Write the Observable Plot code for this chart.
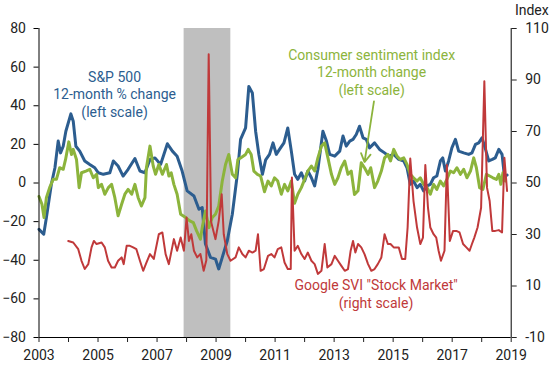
<!DOCTYPE html>
<html>
<head>
<meta charset="utf-8">
<script src="https://cdn.jsdelivr.net/npm/d3@7"></script>
<script src="https://cdn.jsdelivr.net/npm/@observablehq/plot@0.6"></script>
<style>
  html, body { margin: 0; padding: 0; background: #fff; }
  #chart { width: 550px; height: 365px; }
</style>
</head>
<body>
<div id="chart"></div>
<script>
// ---- Data (decimal years) ----
const spYears = [2003.00,2003.16,2003.25,2003.42,2003.54,2003.65,2003.73,2003.82,2003.91,2004.08,2004.16,2004.25,2004.38,2004.55,2004.72,2004.89,2005.01,2005.18,2005.40,2005.52,2005.68,2005.85,2006.02,2006.25,2006.42,2006.59,2006.76,2006.93,2007.12,2007.35,2007.52,2007.68,2007.85,2008.02,2008.25,2008.42,2008.53,2008.64,2008.81,2008.98,2009.09,2009.21,2009.38,2009.55,2009.72,2009.83,2010.00,2010.11,2010.23,2010.34,2010.45,2010.57,2010.68,2010.81,2010.93,2011.04,2011.15,2011.30,2011.43,2011.55,2011.66,2011.77,2011.89,2012.00,2012.11,2012.23,2012.34,2012.45,2012.62,2012.74,2012.85,2013.02,2013.19,2013.30,2013.41,2013.53,2013.64,2013.75,2013.86,2013.98,2014.09,2014.20,2014.37,2014.54,2014.71,2014.85,2015.02,2015.19,2015.36,2015.47,2015.58,2015.69,2015.81,2015.92,2016.03,2016.15,2016.26,2016.37,2016.48,2016.60,2016.68,2016.77,2016.88,2016.99,2017.11,2017.22,2017.39,2017.56,2017.67,2017.79,2017.90,2018.01,2018.13,2018.24,2018.36,2018.46,2018.58,2018.69,2018.77,2018.86];
const spValues = [-24,-26.5,-18,-0.5,7.9,21.7,15.6,19,26.8,35.8,32,19,16.5,11.4,9.6,7.9,5.3,4.5,5.3,11.4,8.8,3.6,7.1,12.7,6.2,5.3,12.2,13,9.6,20.3,16.5,13.9,6.2,-4.1,-6.7,-13.6,-12.7,-31.6,-38.5,-39.4,-44.5,-38.5,-29.9,-16.2,4.5,22.6,28.5,50,46.6,26.8,14.8,4.5,12,14.8,20.8,14.8,17.4,20.8,28.5,16.5,4.5,1.9,5.3,1,6.2,2.7,-1.5,7.1,26.8,21.7,14.8,13.9,16.5,24.3,19.1,21.7,22.6,25.1,29.4,23.4,22.6,18.2,20.8,17.4,15.6,13.9,14.8,12.2,11.4,7.9,-0.7,1,-2.4,-0.7,-4.1,-1.5,-0.7,2.7,3.6,11.4,13,6.2,11.4,18.2,22.6,16.5,15.6,14.8,15.6,20,20.8,23.4,17.4,11.4,12.2,13,17.4,14.8,3.6,4.1];

const csYears = [2003.00,2003.10,2003.17,2003.25,2003.36,2003.48,2003.59,2003.70,2003.82,2003.90,2004.01,2004.10,2004.16,2004.27,2004.36,2004.44,2004.59,2004.72,2004.84,2004.95,2005.01,2005.12,2005.23,2005.35,2005.46,2005.57,2005.68,2005.80,2005.91,2006.02,2006.14,2006.25,2006.36,2006.47,2006.59,2006.64,2006.76,2006.87,2006.95,2007.06,2007.18,2007.32,2007.40,2007.48,2007.57,2007.68,2007.80,2007.97,2008.11,2008.23,2008.34,2008.47,2008.53,2008.64,2008.76,2008.87,2008.98,2009.09,2009.21,2009.32,2009.43,2009.55,2009.66,2009.74,2009.83,2010.00,2010.09,2010.19,2010.28,2010.40,2010.51,2010.64,2010.76,2010.87,2010.98,2011.09,2011.21,2011.32,2011.43,2011.55,2011.66,2011.77,2011.89,2012.00,2012.11,2012.23,2012.34,2012.45,2012.57,2012.68,2012.79,2012.91,2013.02,2013.13,2013.24,2013.36,2013.47,2013.58,2013.69,2013.81,2013.92,2014.03,2014.15,2014.24,2014.37,2014.48,2014.60,2014.71,2014.82,2014.91,2015.02,2015.13,2015.24,2015.36,2015.47,2015.58,2015.69,2015.81,2015.92,2016.03,2016.15,2016.26,2016.37,2016.48,2016.60,2016.71,2016.82,2016.94,2017.05,2017.16,2017.28,2017.39,2017.50,2017.62,2017.73,2017.82,2017.93,2018.04,2018.16,2018.27,2018.38,2018.50,2018.58,2018.65,2018.72,2018.80];
const csValues = [-7,-11,-17.9,-7.6,-2.4,1.9,1.9,7.9,7.1,12.2,21.3,14.8,17.4,12.2,-2.4,5.3,6.2,7.1,2.7,4.5,-2.4,-0.7,-5.8,-2.4,-0.7,-7.6,-17,-11,-5.8,-3.3,-5.8,-0.7,-7.6,-11.9,-7.6,7.9,19.1,8.8,4.5,9.6,4.5,9.6,3.6,5.3,-0.7,-5.8,-16.2,-17.9,-19.6,-20.5,-24.8,-29.1,-23.1,-14.5,-23.1,-17.9,-16.2,-11.9,1,9.6,14.8,4.5,2.7,12.2,13,14.8,17.4,14.8,6.2,4.5,3.6,-4.5,1,-1.5,2.7,1,-5.8,-0.7,-4.1,1,-10.5,-5.8,-2.4,1.9,6.2,8.8,6.2,13,19.1,20.8,13,4.5,-0.7,2.7,7.9,11.4,4.5,6.2,-6,-4,10.5,7.9,4.5,7.9,-2.4,1,6.2,13,14.8,11.4,17.4,13.9,12.2,13,9.6,4.5,2.7,1,2.7,-0.7,-2.4,-5.8,-0.7,-3.3,1,-1.5,1.9,6.2,5.3,7.9,4.5,7.1,2.7,6.2,13,7.9,-2.4,-3.3,4.5,3.6,2.7,1.9,4.5,-0.7,5.3,1];

const gYears = [2003.99,2004.16,2004.33,2004.44,2004.55,2004.67,2004.78,2004.86,2004.95,2005.12,2005.23,2005.34,2005.46,2005.57,2005.68,2005.80,2005.87,2005.97,2006.08,2006.19,2006.30,2006.42,2006.53,2006.64,2006.76,2006.89,2007.06,2007.18,2007.29,2007.40,2007.57,2007.68,2007.80,2007.91,2008.00,2008.08,2008.16,2008.25,2008.36,2008.47,2008.58,2008.67,2008.75,2008.83,2008.98,2009.09,2009.19,2009.26,2009.38,2009.49,2009.66,2009.77,2009.89,2010.00,2010.11,2010.23,2010.34,2010.42,2010.51,2010.62,2010.76,2010.87,2010.98,2011.09,2011.21,2011.32,2011.43,2011.53,2011.57,2011.66,2011.77,2011.89,2012.00,2012.11,2012.23,2012.34,2012.45,2012.57,2012.68,2012.77,2012.91,2013.02,2013.13,2013.24,2013.36,2013.47,2013.56,2013.64,2013.72,2013.81,2013.92,2014.03,2014.15,2014.26,2014.37,2014.48,2014.60,2014.71,2014.82,2014.91,2015.02,2015.19,2015.30,2015.41,2015.49,2015.58,2015.69,2015.81,2015.92,2016.01,2016.09,2016.18,2016.26,2016.37,2016.46,2016.54,2016.62,2016.74,2016.82,2016.92,2017.03,2017.14,2017.25,2017.37,2017.48,2017.59,2017.67,2017.75,2017.86,2017.98,2018.09,2018.18,2018.27,2018.36,2018.46,2018.58,2018.69,2018.77,2018.86];
const gValues = [27.5,26.9,24.3,19.8,16.6,18.5,25,27.5,26.3,26.9,25,19.8,17.2,17.2,19.8,21.1,18.5,25.6,25.6,25,24.3,19.8,15.9,19.1,22.4,20.5,30.1,30.8,22.4,18.5,28.2,23.7,28.8,23.7,36.6,27.5,30.1,23.7,21.1,22.4,15.9,20,100,35,28.2,35.3,45.6,30.1,22.4,19.8,21.1,25,22.4,21.1,23.7,23,23.7,30.1,15.9,16.6,21.7,22.4,21.1,24.3,25,19.1,16.6,16.6,52.1,23.7,25.6,22.4,20.5,23,19.8,18.5,14.7,15.9,26.3,17.2,18.5,21.7,19.8,17.9,15.9,16.6,23.7,27.5,23,26.3,25,22.4,18.5,15.9,16.6,18.5,21.1,30.1,26.3,26.3,25,25,20.5,20.5,32.7,59.5,43,32.7,26.3,28.8,57,40.4,32.7,30.1,28.8,23.7,19.8,23.7,57,27.5,31.4,31.4,30.8,26.3,25,23.7,26.3,28.8,32.7,40.4,89.5,48.2,43,31.4,31.4,31.7,30.8,59.8,46.9];

const recessionStart = [2007.917];
const recessionEnd = [2009.5];

const leftTicks = [-80, -60, -40, -20, 0, 20, 40, 60, 80];
const rightTicks = [-10, 10, 30, 50, 70, 90, 110];
const yearTicks = d3.range(2003, 2020);

// Labels (text, anchor year, anchor value on left scale)
const labelTexts = ["S&P 500\n12-month % change\n(left scale)", "Consumer sentiment index\n12-month change\n(left scale)", "Google SVI \"Stock Market\"\n(right scale)"];
const labelYears = [2005.56, 2014.27, 2014.42];
const labelValues = [46.3, 57.7, -57];
const arrowFrom = [2014.35, 42.3];
const arrowTo = [2014.03, 10.8];

const colors = {blue: "#2c5d8f", green: "#8cb43c", red: "#c0393a", band: "#bfbfbf"};

// right scale (Index) -> left scale units
const toLeft = v => (v - 50) * 160 / 120;

const sp = spYears.map((x, i) => ({x, y: spValues[i]}));
const cs = csYears.map((x, i) => ({x, y: csValues[i]}));
const g = gYears.map((x, i) => ({x, y: toLeft(gValues[i])}));
const rec = recessionStart.map((s, i) => ({s, e: recessionEnd[i]}));
const labels = labelTexts.map((t, i) => ({t, x: labelYears[i], y: labelValues[i]}));

const chart = Plot.plot({
  width: 550,
  height: 365,
  marginLeft: 38.5,
  marginRight: 39.3,
  marginTop: 28,
  marginBottom: 28,
  style: {fontFamily: "Roboto, 'Noto Sans', sans-serif", fontSize: "14px", color: "#222", background: "#fff"},
  x: {domain: [2003, 2019]},
  y: {domain: [-80, 80]},
  marks: [
    Plot.rect(rec, {x1: "s", x2: "e", fill: colors.band}),
    Plot.line(sp, {x: "x", y: "y", stroke: colors.blue, strokeWidth: 3, strokeLinejoin: "round"}),
    Plot.line(cs, {x: "x", y: "y", stroke: colors.green, strokeWidth: 3, strokeLinejoin: "round"}),
    Plot.line(g, {x: "x", y: "y", stroke: colors.red, strokeWidth: 2, strokeLinejoin: "round"}),
    Plot.ruleX([2003, 2019], {stroke: "#000", strokeWidth: 1}),
    Plot.ruleY([-80], {stroke: "#000", strokeWidth: 1}),
    Plot.axisY({anchor: "left", ticks: leftTicks, tickSize: 5, tickPadding: 8, fontSize: 14, label: null, stroke: "#000"}),
    Plot.axisY(rightTicks.map(toLeft), {anchor: "right", tickFormat: v => String(Math.round(v * 120 / 160 + 50)), tickSize: 5, tickPadding: 9, fontSize: 14, label: null}),
    Plot.axisX({ticks: yearTicks, tickFormat: d => (d % 2 === 1 ? String(d) : ""), tickSize: 5, tickPadding: 8, fontSize: 14, label: null}),
    Plot.text(["Index"], {frameAnchor: "top-right", dx: 37.5, dy: -18, textAnchor: "end", lineAnchor: "middle", fontSize: 14, fill: "#222"}),
    Plot.text(labels.slice(0, 1), {x: "x", y: "y", text: "t", fill: colors.blue, fontSize: 14, lineHeight: 1.25}),
    Plot.text(labels.slice(1, 2), {x: "x", y: "y", text: "t", fill: colors.green, fontSize: 14, lineHeight: 1.25}),
    Plot.text(labels.slice(2, 3), {x: "x", y: "y", text: "t", fill: colors.red, fontSize: 14, lineHeight: 1.31}),
    Plot.arrow([{x1: arrowFrom[0], y1: arrowFrom[1], x2: arrowTo[0], y2: arrowTo[1]}], {x1: "x1", y1: "y1", x2: "x2", y2: "y2", stroke: colors.green, strokeWidth: 1.8, headLength: 8})
  ]
});
document.getElementById("chart").appendChild(chart);
</script>
</body>
</html>
